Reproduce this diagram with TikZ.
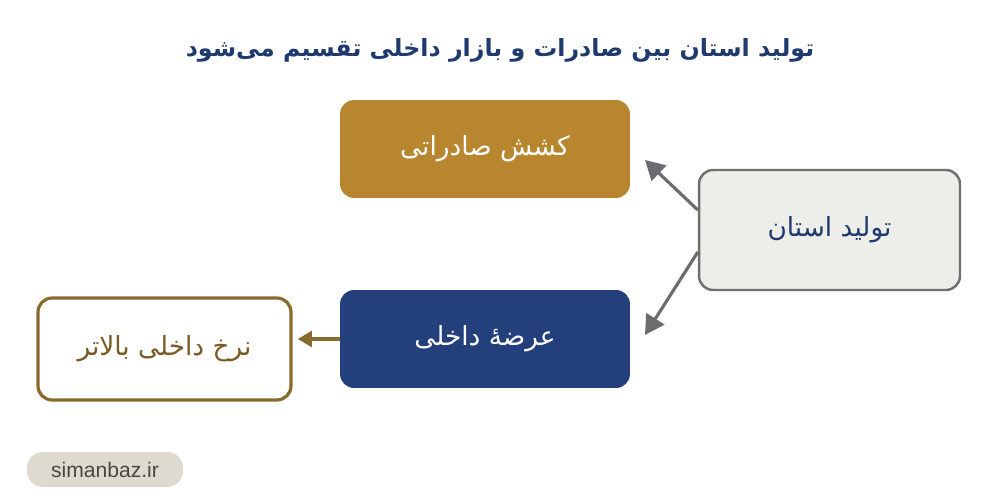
\documentclass[tikz,border=0pt]{standalone}
\usepackage{fontspec}
\setmainfont{DejaVu Sans}
\newfontfamily\farsi[Script=Arabic]{DejaVu Sans}
\newfontfamily\latin{Liberation Sans}
\TeXXeTstate=1
\usetikzlibrary{arrows.meta,calc}
\definecolor{titleblue}{HTML}{1F3A6E}
\definecolor{boxblue}{HTML}{233F7C}
\definecolor{boxgold}{HTML}{B8862F}
\definecolor{rategold}{HTML}{8A6A2C}
\definecolor{ratetext}{HTML}{7A5A24}
\definecolor{prodfill}{HTML}{EDEDEA}
\definecolor{prodline}{HTML}{707070}
\definecolor{arrowgray}{HTML}{6B6C70}
\definecolor{pillfill}{HTML}{DEDAD0}
\definecolor{pilltext}{HTML}{474747}
\newcommand{\fa}[1]{{\farsi\beginR #1\endR}}
\tikzset{
    box/.style={rounded corners=8pt,align=center,font=\fontsize{15}{18}\selectfont},
    solidbox/.style={box,fill=#1,text=white,minimum width=5.8cm,minimum height=1.96cm},
    flow/.style={line width=1.8pt,-{Triangle[length=11pt,width=12pt]}}
}
\begin{document}
\begin{tikzpicture}[x=0.02cm,y=-0.02cm]
    \useasboundingbox (0,0) rectangle (1000,500);
    \node[text=titleblue,font=\fontsize{13.5}{16}\selectfont\bfseries] (title) at (500,50)
        {\fa{تولید استان بین صادرات و بازار داخلی تقسیم می‌شود}};
    \node[solidbox=boxgold] (export) at (485,149) {\fa{کشش صادراتی}};
    \node[solidbox=boxblue] (domestic) at (485,339) {\fa{عرضهٔ داخلی}};
    \node[box,fill=prodfill,draw=prodline,line width=1.4pt,text=titleblue,
        minimum width=5.22cm,minimum height=2.4cm] (prod) at (829.5,230) {\fa{تولید استان}};
    \node[box,fill=white,draw=rategold,line width=1.8pt,text=ratetext,
        minimum width=5.06cm,minimum height=2.04cm] (rate) at (164.5,349) {\fa{نرخ داخلی بالاتر}};
    \node[fill=pillfill,text=pilltext,rounded corners=9pt,minimum width=3.12cm,
        minimum height=0.7cm,font=\latin\fontsize{12}{14}\selectfont] (site) at (105,469.5) {simanbaz.ir};
    % arrows
    \coordinate (uptip) at (645,160);
    \coordinate (downtip) at (645,335);
    \draw[flow,arrowgray] ($(prod.west)+(0,-20)$) -- (uptip);
    \draw[flow,arrowgray] ($(prod.west)+(0,22)$) -- (downtip);
    \draw[flow,rategold,shorten >=3pt,-{Triangle[length=8pt,width=9pt]}] (domestic.west) -- (domestic.west -| rate.east);
\end{tikzpicture}
\end{document}
